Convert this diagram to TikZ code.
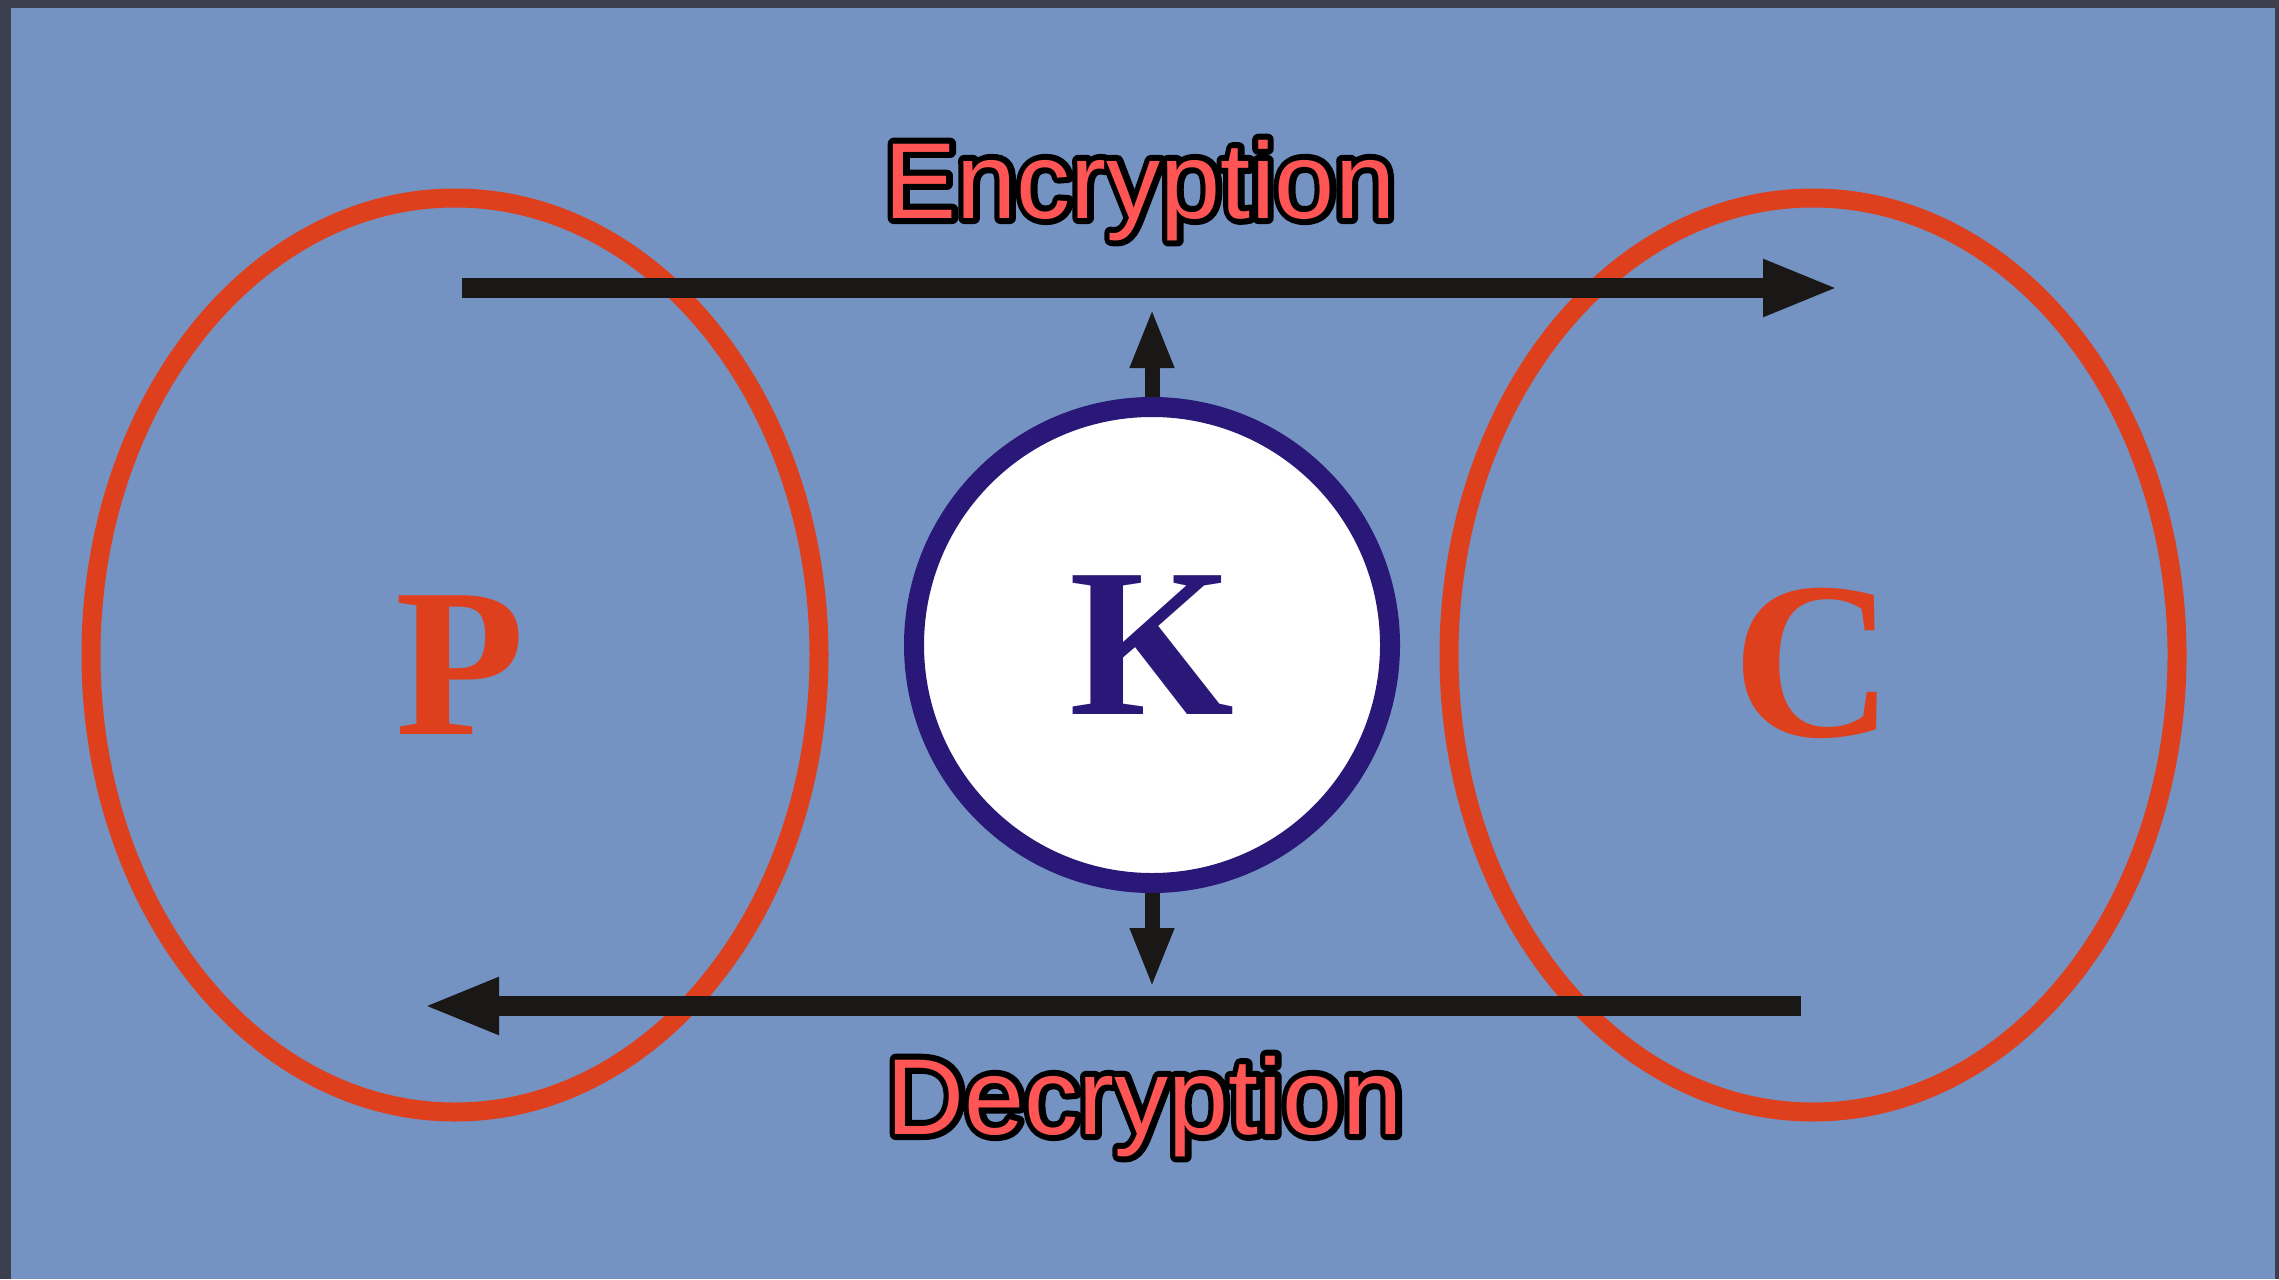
\documentclass[tikz,border=0pt]{standalone}
\usepackage{fontspec}
\setmainfont{Liberation Serif}
\newfontfamily\labelsans{Liberation Sans}
\usetikzlibrary{arrows.meta}

\definecolor{slate}{RGB}{116,147,195}
\definecolor{framegrey}{RGB}{60,64,78}
\definecolor{ringred}{RGB}{222,64,30}
\definecolor{keyblue}{RGB}{42,24,120}
\definecolor{labelred}{RGB}{255,85,85}
\definecolor{arrowblack}{RGB}{26,24,22}

% red lettering with a black outline: a stroked black layer under the red fill
\newcommand\outlined[1]{%
  \leavevmode\rlap{\color{black}%
    \special{pdf:literal direct 2 Tr 6 w 1 j}#1\special{pdf:literal direct 0 Tr}}%
  \textcolor{labelred}{#1}}

\begin{document}
\begin{tikzpicture}[x=0.5pt,y=-0.5pt,
  ring/.style={draw=ringred, line width=9.5pt},
  flow/.style={draw=arrowblack, line width=10pt, -{Triangle[length=38pt,width=26pt]}},
  keyarrow/.style={draw=arrowblack, line width=7.5pt, -{Triangle[length=30pt,width=20pt]}},
  letter/.style={font=\bfseries\fontsize{106}{106}\selectfont, anchor=base, inner sep=0pt},
  caption/.style={font=\labelsans\fontsize{54}{54}\selectfont, anchor=base, inner sep=0pt},
  keynode/.style={circle, draw=keyblue, fill=white, line width=10pt,
    minimum size=238pt, inner sep=0pt, text=keyblue,
    font=\bfseries\fontsize{106}{106}\selectfont}]

% slide background with its dark frame
\fill[framegrey] (0,0) rectangle (2279,1279);
\fill[slate] (11,8) rectangle (2275,1279);
\useasboundingbox (0,0) rectangle (2279,1279);

% plaintext and ciphertext spaces
\draw[ring] (455,655) ellipse [x radius=364, y radius=457];
\draw[ring] (1813,655) ellipse [x radius=364, y radius=457];
\node[letter, text=ringred] (P) at (460,734) {P};
\node[letter, text=ringred, font=\bfseries\fontsize{112}{112}\selectfont] (C) at (1813,736) {C};

% encryption and decryption flows
\coordinate (encstart) at (462,288);
\coordinate (encend) at (1839,288);
\coordinate (decstart) at (1801,1006);
\coordinate (decend) at (423,1006);
\draw[flow] (encstart) -- (encend);
\draw[flow] (decstart) -- (decend);

% the key
\node[keynode] (key) at (1152,645) {\raisebox{-7.5pt}{K}};
\coordinate (keyup) at (1152,308);
\coordinate (keydown) at (1152,988);
\draw[keyarrow] (key.north) -- (keyup);
\draw[keyarrow] (key.south) -- (keydown);

% captions
\node[caption] (enc) at (1140,218) {\outlined{Encryption}};
\node[caption] (dec) at (1145,1134) {\outlined{Decryption}};
\end{tikzpicture}
\end{document}
